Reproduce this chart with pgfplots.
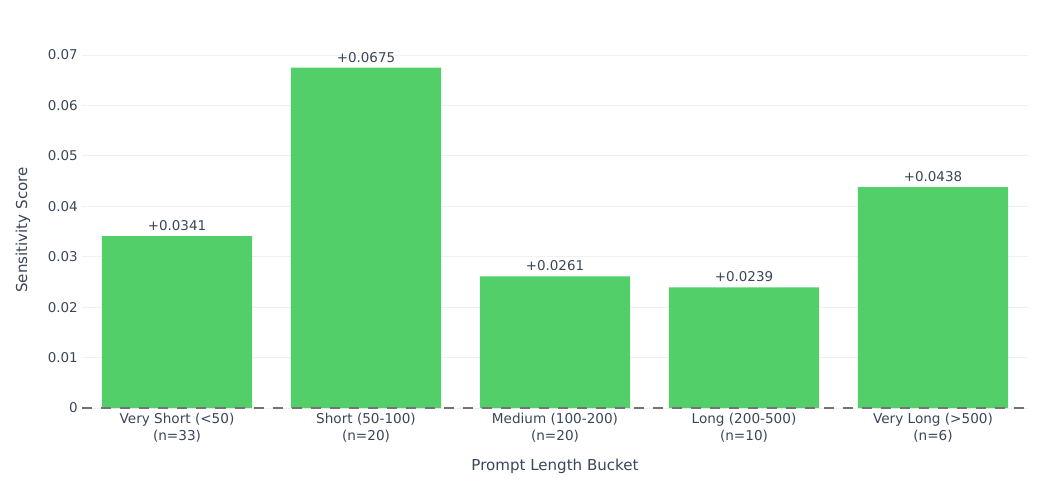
\documentclass[border=0pt]{standalone}
\usepackage{pgfplots}
\pgfplotsset{compat=1.18}
\usepackage{pgfplotstable}
\usepackage{fontspec}
\setmainfont{DejaVu Sans}
\definecolor{barg}{HTML}{53CF69}
\definecolor{txt}{HTML}{3A4658}
\definecolor{gridc}{HTML}{EEF0F4}
\pgfplotstableread{
x y lab
0 0.0341 +0.0341
1 0.0675 +0.0675
2 0.0261 +0.0261
3 0.0239 +0.0239
4 0.0438 +0.0438
}\datatable
\begin{document}
\begin{tikzpicture}
\path[use as bounding box] (-61.875pt,-56.25pt) rectangle (720.375pt,306pt);
\begin{axis}[
  scale only axis,
  width=708.75pt, height=267pt,
  anchor=south west, at={(0,0)},
  xmin=-0.5, xmax=4.5,
  ymin=0, ymax=0.0706,
  scaled y ticks=false,
  axis line style={draw=none},
  tick style={draw=none},
  ymajorgrids, grid style={gridc, line width=0.75pt},
  ytick={0,0.01,0.02,0.03,0.04,0.05,0.06,0.07},
  yticklabels={0,0.01,0.02,0.03,0.04,0.05,0.06,0.07},
  xtick={0,1,2,3,4},
  xticklabels={{Very Short (<50)\\(n=33)},{Short (50-100)\\(n=20)},{Medium (100-200)\\(n=20)},{Long (200-500)\\(n=10)},{Very Long (>500)\\(n=6)}},
  /pgf/number format/assume math mode=true,
  yticklabel style={font=\fontsize{10.1}{12}\selectfont, text=txt, xshift=0pt},
  xticklabel style={font=\fontsize{10.2}{12.8}\selectfont, text=txt, align=center, yshift=0pt},
  ylabel={Sensitivity Score},
  xlabel={Prompt Length Bucket},
  every axis y label/.style={at={(axis description cs:0,0.5)}, xshift=-44.6pt, rotate=90, anchor=center, font=\fontsize{11.3}{13}\selectfont, text=txt},
  every axis x label/.style={at={(axis description cs:0.5,0)}, yshift=-43.5pt, anchor=center, font=\fontsize{11.3}{13}\selectfont, text=txt},
  clip=false,
]
\addplot[ybar, bar width=0.794, fill=barg, draw=none,
  nodes near coords, point meta=explicit symbolic,
  every node near coord/.append style={font=\fontsize{10.1}{12}\selectfont, text=txt, yshift=0.5pt}]
  table[x=x, y=y, meta=lab] {\datatable};
\draw[black!55, line width=1.3pt, dash pattern=on 7.5pt off 6.75pt] (axis cs:-0.5,0) -- (axis cs:4.5,0);
\end{axis}
\end{tikzpicture}
\end{document}
